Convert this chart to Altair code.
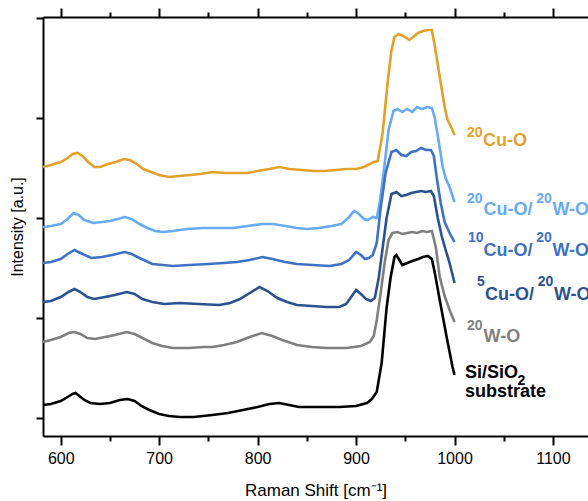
import altair as alt
import pandas as pd

# ---------------- data (Raman shift in cm^-1, intensity in a.u. with vertical offsets) ----------------
cuo20_x = [582, 590, 600, 607, 612, 617, 622, 628, 634, 640, 648, 656, 664, 670, 676, 684, 692, 700, 710, 720,
           731, 742, 754, 766, 778, 790, 800, 812, 822, 832, 845, 856, 868, 880, 890, 900, 908, 914, 918, 922,
           927, 932, 936, 939, 943, 948, 954, 958, 963, 968, 973, 977, 980, 985, 990, 993, 997, 1000]
cuo20_y = [251, 253, 256, 260, 264, 265, 262, 256, 251, 251, 254, 256, 259, 258, 255, 249, 246, 243, 241, 242,
           243, 244, 246, 245, 245, 245, 247, 249, 251, 249, 248, 247, 247, 248, 249, 249, 251, 254, 256, 257,
           285, 335, 368, 381, 384, 382, 378, 381, 385, 387, 388, 388, 372, 341, 311, 298, 290, 283]

cuo20wo20_x = [582, 590, 600, 607, 613, 618, 624, 633, 642, 650, 658, 665, 672, 680, 688, 696, 704, 714, 728, 745,
               760, 775, 790, 805, 816, 828, 840, 850, 862, 875, 885, 892, 898, 903, 908, 912, 917, 921, 924, 928,
               933, 938, 942, 947, 952, 957, 962, 967, 972, 977, 980, 982, 985, 988, 991, 995, 1000]
cuo20wo20_y = [191, 192, 194, 199, 205, 203, 198, 195, 196, 197, 199, 201, 199, 194, 190, 187, 186, 187, 189, 190,
               190, 190, 192, 194, 194, 192, 190, 189, 190, 192, 194, 200, 207, 204, 199, 198, 201, 200, 215, 245,
               288, 307, 309, 306, 309, 306, 311, 309, 311, 310, 300, 288, 270, 251, 240, 231, 216]

cuo10wo20_x = [582, 590, 600, 607, 614, 620, 631, 642, 652, 665, 672, 680, 693, 704, 714, 730, 750, 765, 779, 792,
               805, 815, 828, 840, 856, 873, 885, 893, 900, 905, 909, 913, 917, 921, 925, 930, 936, 941, 946, 951,
               956, 961, 966, 971, 976, 979, 982, 986, 990, 995, 1000]
cuo10wo20_y = [155, 156, 159, 164, 168, 165, 160, 161, 163, 166, 164, 160, 154, 153, 152, 153, 154, 155, 156, 158,
               161, 159, 156, 154, 153, 152, 154, 158, 166, 163, 159, 160, 163, 175, 210, 245, 266, 268, 263, 262,
               266, 267, 270, 268, 268, 262, 240, 215, 196, 185, 176]

cuo5wo20_x = [582, 590, 600, 608, 614, 620, 627, 634, 645, 655, 667, 675, 683, 693, 705, 721, 740, 761, 772, 782,
              792, 802, 810, 820, 830, 840, 855, 870, 883, 890, 895, 900, 905, 910, 915, 919, 923, 927, 931, 936,
              941, 946, 951, 956, 961, 966, 971, 976, 979, 983, 987, 991, 995, 1000]
cuo5wo20_y = [116, 117, 121, 126, 129, 126, 121, 119, 121, 123, 126, 124, 119, 116, 114, 115, 114, 113, 115, 119,
              125, 131, 127, 120, 116, 113, 112, 111, 111, 114, 121, 128, 124, 119, 117, 120, 140, 170, 200, 224,
              226, 222, 223, 225, 226, 227, 226, 227, 222, 200, 182, 168, 155, 135]

wo20_x = [582, 590, 600, 608, 614, 620, 627, 635, 645, 655, 667, 675, 683, 693, 703, 714, 730, 745, 754, 766,
          779, 792, 804, 815, 825, 840, 855, 870, 890, 905, 914, 918, 921, 925, 929, 933, 937, 942, 947, 952,
          957, 962, 967, 972, 977, 981, 985, 990, 995, 1000]
wo20_y = [76, 78, 81, 85, 86, 84, 80, 79, 81, 83, 86, 84, 80, 75, 72, 70, 70, 71, 71, 73,
          76, 81, 85, 82, 78, 73, 71, 70, 70, 72, 76, 82, 98, 125, 155, 178, 185, 186, 184, 185,
          186, 185, 187, 186, 187, 171, 141, 122, 108, 96]

sub_x = [582, 590, 600, 607, 612, 615, 619, 624, 630, 640, 650, 660, 668, 675, 682, 690, 700, 710, 721, 735,
         754, 770, 785, 800, 812, 822, 832, 842, 860, 883, 900, 911, 916, 921, 926, 931, 935, 939, 941, 944,
         947, 952, 957, 963, 968, 973, 977, 980, 985, 992, 998, 1000]
sub_y = [13, 14, 17, 21, 24, 25, 22, 18, 15, 14, 15, 18, 19, 17, 12, 8, 4, 2, 1, 1,
         3, 5, 8, 11, 14, 15, 13, 11, 11, 11, 12, 15, 19, 26, 55, 110, 140, 161, 163, 158,
         153, 155, 157, 159, 161, 162, 159, 145, 118, 81, 51, 43]

series_names = ["20Cu-O", "20Cu-O/20W-O", "10Cu-O/20W-O", "5Cu-O/20W-O", "20W-O", "Si/SiO2 substrate"]
series_colors = ["#E3A12C", "#66ABF3", "#3E72C2", "#2A5290", "#7F7F7F", "#000000"]
series_x = [cuo20_x, cuo20wo20_x, cuo10wo20_x, cuo5wo20_x, wo20_x, sub_x]
series_y = [cuo20_y, cuo20wo20_y, cuo10wo20_y, cuo5wo20_y, wo20_y, sub_y]

# label pieces (superscripts / subscripts drawn as separate small text)
label_text = ["20", "Cu-O",
              "20", "Cu-O/", "20", "W-O",
              "10", "Cu-O/", "20", "W-O",
              "5", "Cu-O/", "20", "W-O",
              "20", "W-O",
              "Si/SiO", "2", "substrate"]
label_series = [0, 0, 1, 1, 1, 1, 2, 2, 2, 2, 3, 3, 3, 3, 4, 4, 5, 5, 5]
label_x = [1012.7, 1029.0,
           1012.7, 1029.5, 1083.0, 1099.5,
           1013.7, 1029.5, 1083.0, 1099.5,
           1022.9, 1031.0, 1084.5, 1101.0,
           1012.7, 1029.5,
           1010.7, 1064.0, 1010.7]
label_y = [281, 272,
           215, 203, 215, 203,
           176, 162, 176, 162,
           132, 118, 132, 118,
           88, 76,
           40, 33, 21]
label_small = [1, 0, 1, 0, 1, 0, 1, 0, 1, 0, 1, 0, 1, 0, 1, 0, 0, 1, 0]

x_major = [600, 700, 800, 900, 1000, 1100]
x_minor = [650, 750, 850, 950, 1050, 1150]
y_ticks = [0, 100, 200, 300, 400]

# ---------------- build tables ----------------
rows = []
for name, xs, ys in zip(series_names, series_x, series_y):
    for a, b in zip(xs, ys):
        rows.append({"series": name, "x": a, "y": b})
df = pd.DataFrame(rows)

lab = pd.DataFrame({
    "text": label_text,
    "x": label_x,
    "y": label_y,
    "color": [series_colors[i] for i in label_series],
    "size": [14 if s else 18 for s in label_small],
})

xscale = alt.Scale(domain=[582, 1135.6], nice=False, zero=False)
yscale = alt.Scale(domain=[-18, 401], nice=False, zero=False)

lines = alt.Chart(df).mark_line(strokeWidth=2.6).encode(
    x=alt.X("x:Q", scale=xscale,
            axis=alt.Axis(values=x_major, format="d", tickSize=9, tickWidth=2, tickColor="black",
                          labelFontSize=16, labelColor="black", labelPadding=5,
                          labelFont="Liberation Sans", grid=False,
                          domain=True, domainColor="black", domainWidth=2,
                          title="Raman Shift [cm⁻¹]", titleFontSize=17, titleFontWeight="normal",
                          titleFont="Liberation Sans", titleColor="black", titlePadding=16)),
    y=alt.Y("y:Q", scale=yscale,
            axis=alt.Axis(values=y_ticks, tickSize=7, tickWidth=2, tickColor="black",
                          labels=False, grid=False,
                          domain=True, domainColor="black", domainWidth=2,
                          title="Intensity [a.u.]", titleFontSize=16, titleFontWeight="normal",
                          titleFont="Liberation Sans", titleColor="black", titlePadding=10)),
    color=alt.Color("series:N", scale=alt.Scale(domain=series_names, range=series_colors), legend=None),
)

def ghost(values, orient, size, domain):
    return alt.Chart(df).mark_point(opacity=0).encode(
        x=alt.X("x:Q", scale=xscale,
                axis=alt.Axis(values=values, orient=orient, tickSize=size, tickWidth=2,
                              tickColor="black", labels=False, title=None, grid=False,
                              domain=domain, domainColor="black", domainWidth=2)),
        y=alt.Y("y:Q", scale=yscale, axis=None),
    )

bottom_minor = ghost(x_minor, "bottom", 5, False)
top_major = ghost(x_major, "top", 9, True)
top_minor = ghost(x_minor, "top", 5, False)

labels = alt.Chart(lab).mark_text(align="left", baseline="alphabetic", font="Liberation Sans",
                                  fontWeight="bold").encode(
    x=alt.X("x:Q", scale=xscale, axis=None),
    y=alt.Y("y:Q", scale=yscale, axis=None),
    text="text:N",
    color=alt.Color("color:N", scale=None),
    size=alt.Size("size:Q", scale=None),
)

chart = alt.layer(lines, bottom_minor, top_major, top_minor, labels).resolve_axis(
    x="independent", y="independent"
).properties(
    width=545, height=419,
    autosize=alt.AutoSizeParams(type="none"),
    padding={"left": 43, "top": 17, "right": 0, "bottom": 65},
    background="white",
).configure_view(stroke=None)

chart.save("out.html", embed_options={"renderer": "svg", "actions": False})
